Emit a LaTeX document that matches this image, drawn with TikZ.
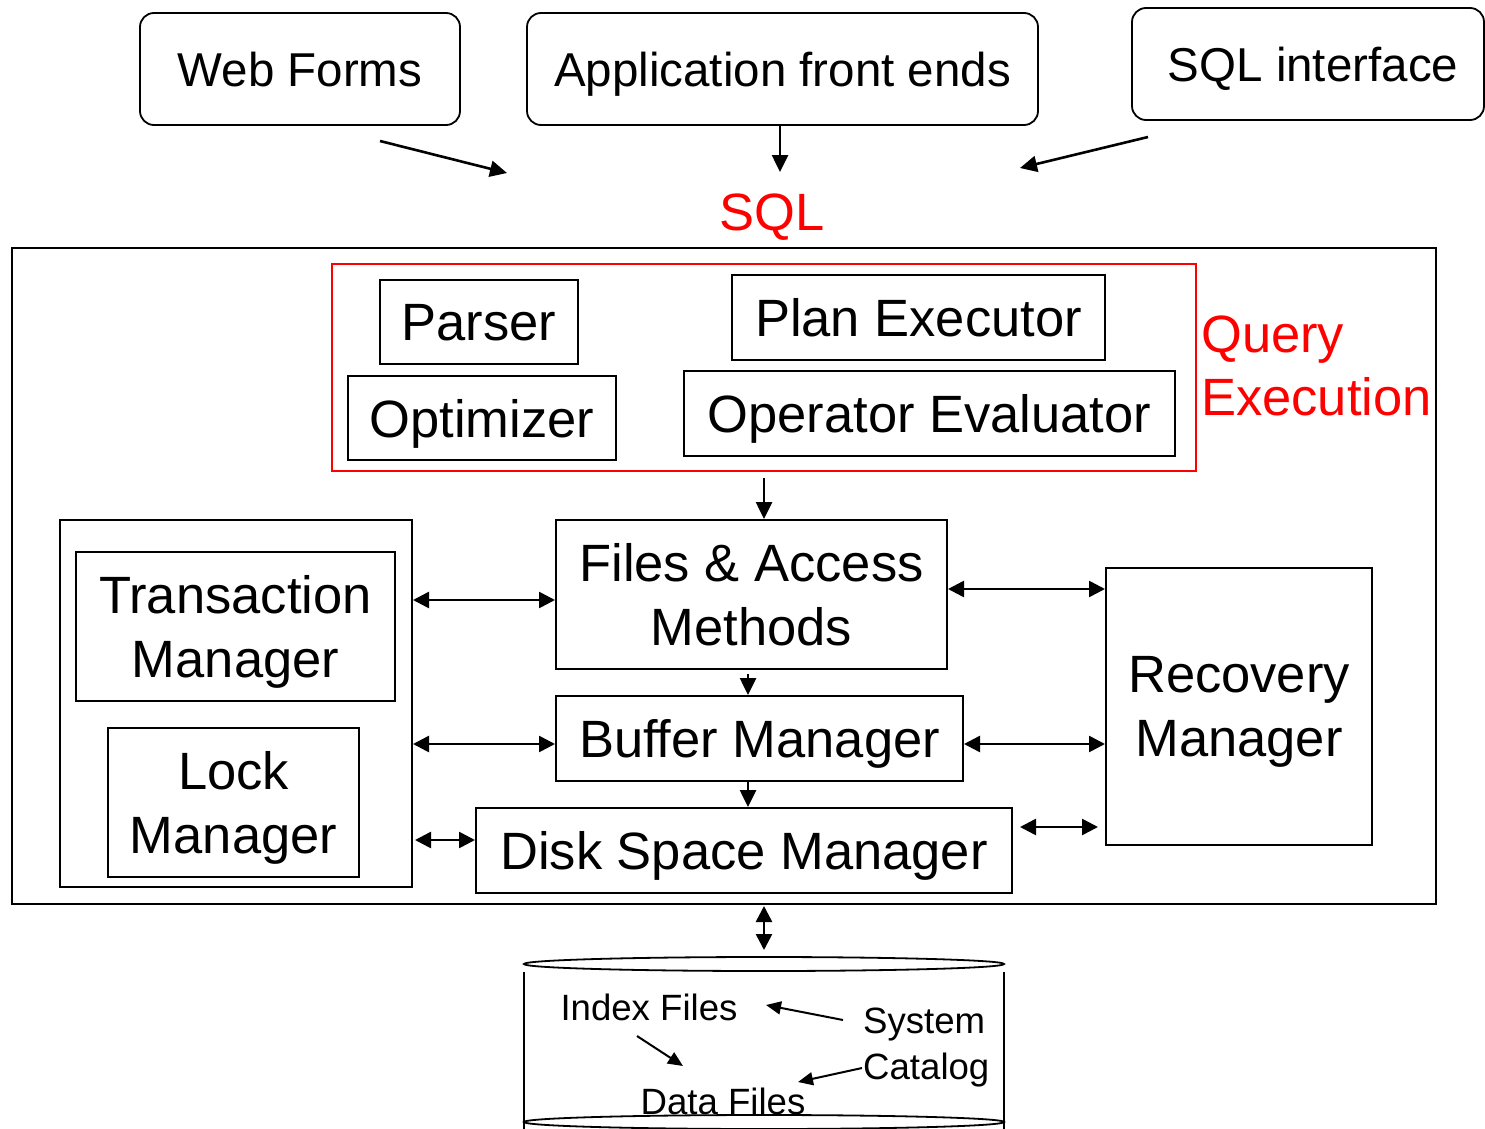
\documentclass[tikz,border=0pt]{standalone}
\usepackage{fontspec}
\setmainfont{Liberation Sans}
\usetikzlibrary{arrows.meta,shapes.geometric}
\tikzset{
  rbox/.style={draw, rounded corners=14pt, line width=1.8pt, inner sep=0pt, text depth=0pt, font=\fontsize{47.5}{57}\selectfont},
  box/.style={draw, line width=2pt, inner sep=0pt, align=center, text depth=0pt, font=\fontsize{52.5}{64}\selectfont},
  small/.style={inner sep=0pt, text depth=0pt, font=\fontsize{36.6}{44}\selectfont},
  arr/.style={line width=2.6pt, arrows={-Triangle[length=17pt,width=16pt]}},
  darr/.style={line width=2.6pt, arrows={Triangle[length=16pt,width=16pt]-Triangle[length=16pt,width=16pt]}},
  sarr/.style={line width=2pt, arrows={-Triangle[length=15pt,width=13pt]}},
}
\begin{document}
\begin{tikzpicture}[x=1pt,y=-1pt]
\useasboundingbox (0,0) rectangle (1485,1129);
% top sources
\node[rbox, minimum width=320pt, minimum height=112pt] (web) at (300,69) {Web Forms};
\node[rbox, minimum width=511pt, minimum height=112pt] (app) at (782.5,69) {Application front ends};
\node[rbox, minimum width=352pt, minimum height=112pt] (sqli) at (1308,64) {\hspace*{10pt}SQL interface};
\node[inner sep=0pt, text=red, text depth=0pt, font=\fontsize{52.5}{64}\selectfont] (sql) at (772,212) {SQL};
\coordinate (wa) at (380,141); \coordinate (wb) at (507,173);
\coordinate (sa) at (1148,137); \coordinate (sb) at (1020,168);
\coordinate (ab) at (780,172);
\draw[arr] (wa) -- (wb);
\draw[arr] (app.south -| ab) -- (ab);
\draw[arr] (sa) -- (sb);
% DBMS box
\node[draw, line width=2pt, minimum width=1424pt, minimum height=656pt, inner sep=0pt] (dbms) at (724,576) {};
\node[draw=red, line width=1.8pt, minimum width=864pt, minimum height=207pt, inner sep=0pt] (qe) at (764,367.5) {};
\node[box, minimum width=198pt, minimum height=84pt] (parser) at (479,322) {Parser};
\node[box, minimum width=268pt, minimum height=84pt] (opt) at (482,418) {Optimizer};
\node[box, minimum width=373pt, minimum height=85pt] (plan) at (918.5,317.5) {Plan Executor};
\node[box, minimum width=491pt, minimum height=85pt] (oper) at (929.5,413.5) {Operator Evaluator};
\node[anchor=west, align=left, inner sep=0pt, text=red, font=\fontsize{52.5}{63}\selectfont] (qel) at (1201,366) {Query\\Execution};
\node[box, minimum width=391pt, minimum height=149pt] (files) at (751.5,594.5) {Files \& Access\\Methods};
\node[draw, line width=2pt, minimum width=352pt, minimum height=367pt, inner sep=0pt] (left) at (236,703.5) {};
\node[box, minimum width=319pt, minimum height=149pt] (trans) at (235.5,626.5) {Transaction\\Manager};
\node[box, minimum width=251pt, minimum height=149pt] (lock) at (233.5,802.5) {Lock\\Manager};
\node[box, minimum width=407pt, minimum height=85pt] (buf) at (759.5,738.5) {Buffer Manager};
\node[box, minimum width=536pt, minimum height=85pt] (disk) at (744,850.5) {Disk Space Manager};
\node[box, minimum width=266pt, minimum height=277pt] (rec) at (1239,706.5) {Recovery\\Manager};
% connectors
\coordinate (qa) at (764,478);
\draw[arr] (qa) -- (files.north -| qa);
\draw[darr] (left.east |- 0,600) -- (files.west |- 0,600);
\draw[darr] (left.east |- 0,744) -- (buf.west |- 0,744);
\draw[darr] ([xshift=2pt]left.east |- 0,840) -- (disk.west |- 0,840);
\draw[darr] (files.east |- 0,589) -- (rec.west |- 0,589);
\draw[darr] (buf.east |- 0,744) -- (rec.west |- 0,744);
\coordinate (ra) at (1020,827); \coordinate (rb) at (1098,827);
\draw[darr] (ra) -- (rb);
\coordinate (fb) at (748,0);
\draw[arr] ([yshift=-4pt]files.south -| fb) -- (buf.north -| fb);
\draw[arr] (buf.south -| fb) -- (disk.north -| fb);
% disk cylinder
\node[draw, ellipse, line width=1.8pt, minimum width=480pt, minimum height=14pt, inner sep=0pt] (cyl) at (764,964) {};
\node[draw, ellipse, line width=1.8pt, minimum width=480pt, minimum height=14pt, inner sep=0pt] (cylb) at (764,1122) {};
\coordinate (cl1) at (524,972); \coordinate (cl2) at (524,1129);
\coordinate (cr1) at (1004,972); \coordinate (cr2) at (1004,1129);
\draw[line width=2.2pt] (cl1) -- (cl2) (cr1) -- (cr2);
\coordinate (da) at (764,906); \coordinate (db) at (764,950);
\draw[darr] (da) -- (db);
\node[small] (idx) at (649,1007) {Index Files};
\node[small, anchor=west] (sys) at (863,1021) {System};
\node[small, anchor=west] (cat) at (863,1066) {Catalog};
\node[small] (data) at (723,1101) {Data Files};
\coordinate (s1) at (843,1020); \coordinate (s2) at (766,1005);
\coordinate (i1) at (637,1036); \coordinate (i2) at (683,1066);
\coordinate (c1) at (862,1068); \coordinate (c2) at (798,1082);
\draw[sarr] (s1) -- (s2);
\draw[sarr] (i1) -- (i2);
\draw[sarr] (c1) -- (c2);
\end{tikzpicture}
\end{document}
